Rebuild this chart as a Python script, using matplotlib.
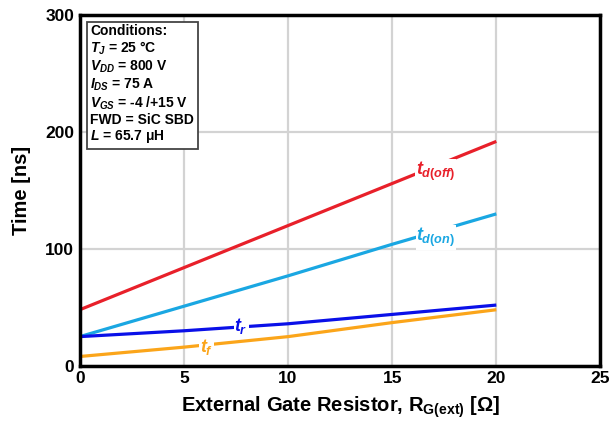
import matplotlib
matplotlib.use("Agg")
import matplotlib.pyplot as plt

plt.rcParams['font.family'] = ['Liberation Sans', 'DejaVu Sans']
plt.rcParams['font.weight'] = 'bold'
plt.rcParams['mathtext.fontset'] = 'custom'
plt.rcParams['mathtext.rm'] = 'Liberation Sans:bold'
plt.rcParams['mathtext.it'] = 'Liberation Sans:italic:bold'
plt.rcParams['mathtext.bf'] = 'Liberation Sans:bold'

# Data
rg = [0, 5, 10, 15, 20]
td_off = [48, 84, 120, 156, 192]
td_on = [25, 51, 77, 104, 130]
t_r = [25, 30, 36, 44, 52]
t_f = [8, 16, 25, 37, 48]

x_ticks = [0, 5, 10, 15, 20, 25]
y_ticks = [0, 100, 200, 300]

conditions = ["Conditions:",
              r"$T_{J}$ = 25 °C",
              r"$V_{DD}$ = 800 V",
              r"$I_{DS}$ = 75 A",
              r"$V_{GS}$ = -4 /+15 V",
              "FWD = SiC SBD",
              r"$L$ = 65.7 μH"]

fig = plt.figure(figsize=(6.09, 4.21), dpi=100)
ax = fig.add_axes([0.131, 0.131, 0.855, 0.833])

ax.set_xlim(0, 25)
ax.set_ylim(0, 300)
ax.set_xticks(x_ticks)
ax.set_yticks(y_ticks)
ax.grid(True, color='#d3d3d3', linewidth=1.6)
ax.set_axisbelow(True)
for s in ax.spines.values():
    s.set_linewidth(2.5)
    s.set_color('black')
ax.tick_params(length=0, labelsize=12.5, pad=4)
for lab in ax.get_xticklabels() + ax.get_yticklabels():
    lab.set_fontweight('bold')

series = [
    (td_off, '#e8202a', r"$t_{d(off)}$", 17.1, 166),
    (td_on, '#1aa7e2', r"$t_{d(on)}$", 17.1, 110),
    (t_r, '#0a10e8', r"$t_{r}$", 7.75, 34),
    (t_f, '#fba51a', r"$t_{f}$", 6.1, 16.5),
]
for vals, col, lab, lx, ly in series:
    ax.plot(rg, vals, color=col, linewidth=2.3, solid_capstyle='butt')
for vals, col, lab, lx, ly in series:
    ax.text(lx, ly, lab, color=col, fontsize=13, ha='center', va='center',
            bbox=dict(facecolor='white', edgecolor='none', pad=0.5))

ax.set_xlabel(r"External Gate Resistor, R$_{\mathrm{G(ext)}}$ [Ω]", fontsize=14.5,
              fontweight='bold', labelpad=6)
ax.set_ylabel("Time [ns]", fontsize=14.5, fontweight='bold', labelpad=10)

ax.text(0.02, 0.975, "\n".join(conditions), transform=ax.transAxes,
        fontsize=10, fontweight='bold', ha='left', va='top', linespacing=1.12,
        bbox=dict(facecolor='white', edgecolor='#444444', linewidth=1.3,
                  boxstyle='square,pad=0.25'))

fig.savefig("out.png", dpi=100)
